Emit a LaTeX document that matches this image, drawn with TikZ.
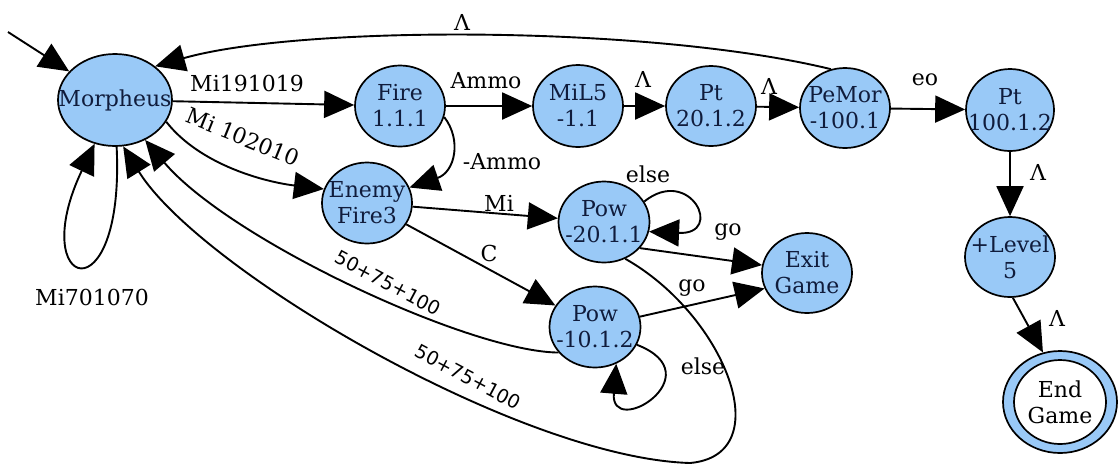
\documentclass[tikz,border=0pt]{standalone}
\usepackage{fontspec}
\usetikzlibrary{arrows.meta,shapes.geometric}
\newfontfamily\statefont{DejaVu Serif}
\newfontfamily\sumfont{DejaVu Sans}
\definecolor{stateblue}{RGB}{153,201,247}
\definecolor{statetext}{RGB}{16,28,60}
\begin{document}
\begin{tikzpicture}[x=1pt,y=-1pt,
  st/.style={ellipse, draw=black, line width=1.7pt, fill=stateblue, inner sep=0pt,
             minimum width=90pt, minimum height=80pt},
  every label/.style={align=center, font=\statefont\fontsize{22}{26}\selectfont,
             text=statetext, inner sep=0pt},
  tr/.style={line width=1.9pt, -{Triangle[length=30pt,width=27pt]}},
  lbl/.style={font=\statefont\fontsize{22}{25}\selectfont, inner sep=0pt},
  sum/.style={font=\sumfont\fontsize{19}{22}\selectfont, inner sep=0pt, rotate=-28}
]
\path[use as bounding box] (0,0) rectangle (1118,467);

% states
\node[st, minimum width=114pt, minimum height=92pt, label={center:Morpheus}] (M) at (115,100) {};
\node[st, minimum height=81pt, label={center:{Fire\\1.1.1}}] (F) at (400,106) {};
\node[st, minimum height=82pt, label={center:{MiL5\\-1.1}}] (L) at (578,106) {};
\node[st, label={center:{Pt\\20.1.2}}] (P1) at (711,106) {};
\node[st, label={center:{PeMor\\-100.1}}] (PM) at (845,108) {};
\node[st, minimum width=88pt, minimum height=82pt, label={center:{Pt\\100.1.2}}] (P2) at (1010,110) {};
\node[st, label={center:{+Level\\5}}] (LV) at (1010,257) {};
\node[st, minimum width=114pt, minimum height=102pt] (EG) at (1060,402) {};
\node[st, fill=white, minimum width=92pt, minimum height=84pt,
      label={[text=black]center:{End\\Game}}] (EGi) at (EG) {};
\node[st, label={center:{Exit\\Game}}] (X) at (807,273) {};
\node[st, minimum height=81pt, label={center:{Enemy\\Fire3}}] (E) at (367,203) {};
\node[st, minimum width=91pt, minimum height=81pt, label={center:{Pow\\-20.1.1}}] (W1) at (604,222) {};
\node[st, minimum width=91pt, minimum height=81pt, label={center:{Pow\\-10.1.2}}] (W2) at (595,327) {};

% transitions
\coordinate (start) at (8,32);
\draw[tr] (start) -- (M.148);
\draw[tr] (M) -- (F);
\draw[tr] (M.-23) .. controls (200,165) and (265,182) .. (E.162);
\draw[tr] (F) -- (L);
\draw[tr] (F.-14) .. controls (462,140) and (455,172) .. (E.20);
\draw[tr] (L) -- (P1);
\draw[tr] (P1) -- (PM);
\draw[tr] (PM.110) .. controls (650,25) and (300,25) .. (M.40);
\draw[tr] (PM) -- (P2);
\draw[tr] (P2) -- (LV);
\draw[tr] (LV.-86) -- (EG.109);
\draw[tr] (E) -- (W1);
\draw[tr] (E) -- (W2);
\draw[tr] (W1.27) .. controls (690,165) and (725,235) .. (W1.-12);
\draw[tr] (W1.-36) -- (X.170);
\draw[tr] (W2.13) -- (X.200);
\draw[tr] (W2.-23) .. controls (715,375) and (610,440) .. (W2.-60);
\draw[tr] (W2.215) .. controls (470,352) and (230,240) .. (M.-53);
\draw[tr] (W1.-60) .. controls (725,315) and (780,455) .. (690,463)
          .. controls (520,458) and (200,270) .. (M.-80);
\draw[tr] (M.-88) .. controls (125,320) and (25,290) .. (M.245);

% transition labels
\node[lbl] (t1) at (247,83) {Mi191019};
\node[lbl, rotate=-22] (t2) at (243,137) {Mi 102010};
\node[lbl] (t3) at (486,81) {Ammo};
\node[lbl] (t4) at (502,162) {-Ammo};
\node[lbl] (t5) at (643,79) {Λ};
\node[lbl] (t6) at (769,86) {Λ};
\node[lbl] (t7) at (462,22) {Λ};
\node[lbl] (t8) at (925,80) {eo};
\node[lbl] (t9) at (1038,172) {Λ};
\node[lbl] (t10) at (1057,318) {Λ};
\node[lbl] (t11) at (499,203) {Mi};
\node[lbl] (t12) at (489,253) {C};
\node[lbl] (t13) at (648,174) {else};
\node[lbl] (t14) at (728,232) {go};
\node[lbl] (t15) at (692,288) {go};
\node[lbl] (t16) at (703,366) {else};
\node[lbl] (t17) at (92,297) {Mi701070};
\node[sum] (t18) at (388,283) {50+75+100};
\node[sum] (t19) at (468,377) {50+75+100};
\end{tikzpicture}
\end{document}
